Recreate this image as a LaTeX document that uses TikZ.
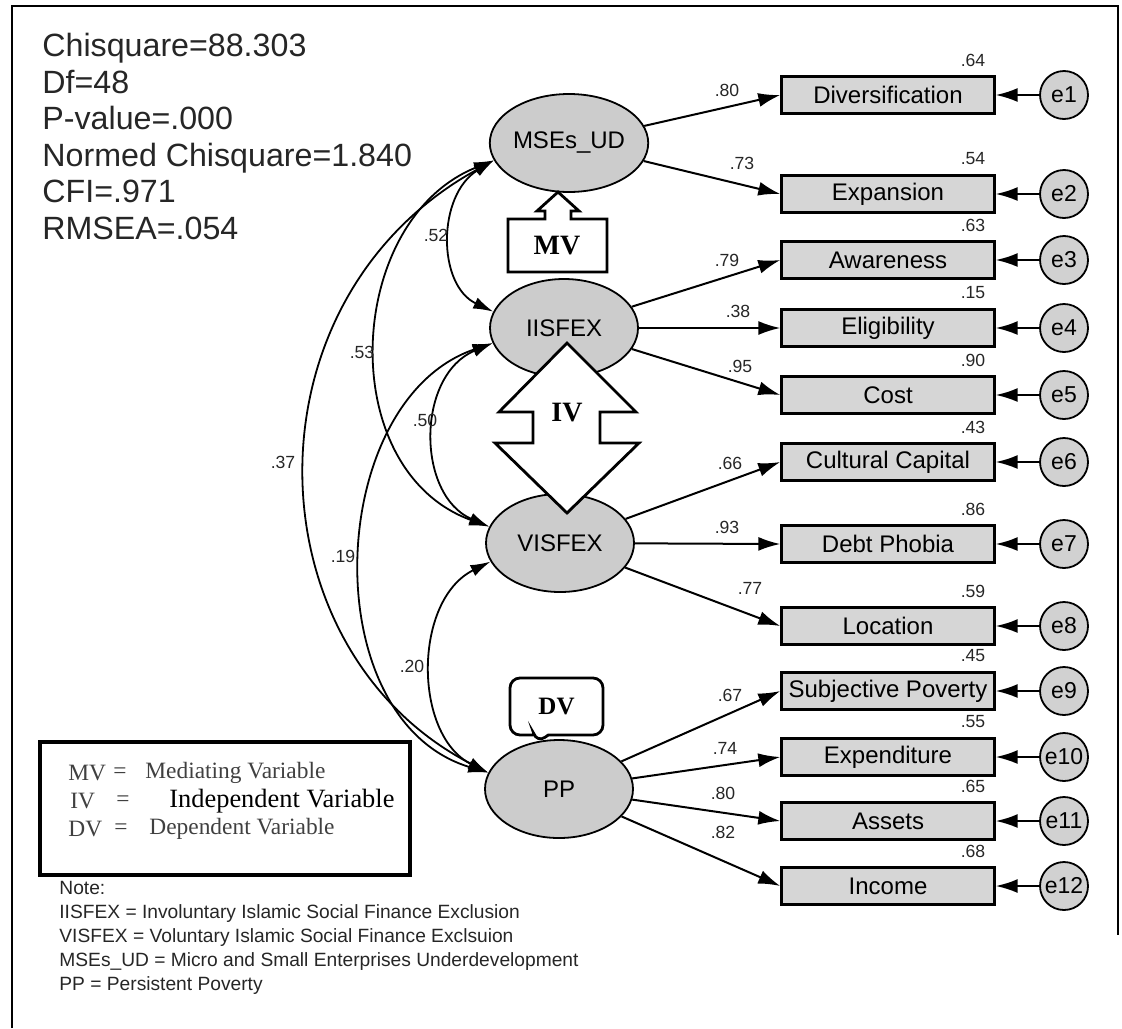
\documentclass[tikz,border=0pt]{standalone}
\usepackage{fontspec}
\setmainfont{Liberation Sans}
\newfontfamily\legendfont{Liberation Serif}
\usepackage{tikz}
\usetikzlibrary{arrows.meta}
\usetikzlibrary{shapes.geometric}
\usetikzlibrary{shapes.callouts}

\tikzset{
  latent/.style={ellipse, draw, line width=0.9pt, fill=black!20, minimum width=74pt,
    minimum height=49pt, inner sep=0pt, font=\fontsize{12}{14}\selectfont},
  observed/.style={rectangle, draw, line width=1.2pt, fill=black!16, minimum width=106.5pt,
    minimum height=18.5pt, inner sep=0pt, font=\fontsize{12}{14}\selectfont},
  errvar/.style={circle, draw, line width=0.9pt, fill=black!18, minimum size=24pt,
    inner sep=0pt, font=\fontsize{11.5}{13}\selectfont},
  loading/.style={line width=1pt, -{Latex[length=11pt,width=7pt]}},
  covar/.style={line width=0.9pt, {Latex[length=10pt,width=6pt]}-{Latex[length=10pt,width=6pt]}},
  coef/.style={inner sep=0pt, font=\fontsize{8.8}{10}\selectfont, text=black!85},
  rolebox/.style={inner sep=0pt, font=\legendfont\bfseries\fontsize{14}{16}\selectfont},
  legendrow/.style={anchor=west, inner sep=0pt, text=black!75, font=\legendfont\fontsize{11.7}{14}\selectfont},
}

\begin{document}
\begin{tikzpicture}[x=0.5pt,y=-0.5pt]
\useasboundingbox (0,0) rectangle (1122,1028);

\draw[line width=1pt] (12,1028) -- (12,6) -- (1118,6) -- (1118,935);

\node[anchor=north west, align=left, inner sep=0pt, text=black!85,
  font=\fontsize{16.1}{18.25}\selectfont] (fit) at (42,33)%
{Chisquare=88.303\\Df=48\\P-value=.000\\Normed Chisquare=1.840\\CFI=.971\\RMSEA=.054};

% latent variables
\node[latent] (mses) at (569,143) {MSEs\_UD};
\node[latent] (iisfex) at (564,328) {IISFEX};
\node[latent] (visfex) at (560,543) {VISFEX};
\node[latent] (pp) at (559,789) {PP};

% indicators with error terms
\foreach \nm/\yy/\txt/\rsq/\en in {div/95/Diversification/.64/1, expa/194/Expansion/.54/2,
    awa/260/Awareness/.63/3, eli/328/Eligibility/.15/4, cost/395/Cost/.90/5,
    cul/462/Cultural Capital/.43/6, debt/544/Debt Phobia/.86/7, loc/626/Location/.59/8,
    subj/691/Subjective Poverty/.45/9, expe/757/Expenditure/.55/10, ass/821/Assets/.65/11,
    inc/886/Income/.68/12}{
    \node[observed] (\nm) at (888,\yy) {\txt};
    \node[errvar] (e\en) at (1064,\yy) {e\en};
    \node[coef] (r\en) at (973,\yy-35) {\rsq};
    \draw[loading] (e\en) -- (\nm.east);
}

\foreach \a/\b in {mses/div, mses/expa, iisfex/awa, iisfex/eli, iisfex/cost,
    visfex/cul, visfex/debt, visfex/loc, pp/subj, pp/expe, pp/ass, pp/inc}{
    \draw[loading] (\a) -- (\b.west);
}

\node[coef] (l1) at (727,90) {.80};
\node[coef] (l2) at (742,163) {.73};
\node[coef] (l3) at (727,260) {.79};
\node[coef] (l4) at (738,311) {.38};
\node[coef] (l5) at (740,366) {.95};
\node[coef] (l6) at (730,463) {.66};
\node[coef] (l7) at (727,527) {.93};
\node[coef] (l8) at (750,588) {.77};
\node[coef] (l9) at (730,695) {.67};
\node[coef] (l10) at (725,748) {.74};
\node[coef] (l11) at (723,793) {.80};
\node[coef] (l12) at (723,832) {.82};

% correlations
\draw[covar] (mses.193) .. controls (437,195) and (437,285) .. (iisfex.167);
\draw[covar] (mses.193) .. controls (345,220) and (333,470) .. (visfex.167);
\draw[covar] (mses.193) .. controls (240,300) and (250,650) .. (pp.167);
\draw[covar] (iisfex.192) .. controls (416,375) and (416,495) .. (visfex.167);
\draw[covar] (iisfex.192) .. controls (325,400) and (313,720) .. (pp.167);
\draw[covar] (visfex.195) .. controls (413,600) and (413,735) .. (pp.167);

\node[coef] (c1) at (436,235) {.52};
\node[coef] (c2) at (362,352) {.53};
\node[coef] (c3) at (425,420) {.50};
\node[coef] (c4) at (283,462) {.37};
\node[coef] (c5) at (343,556) {.19};
\node[coef] (c6) at (412,666) {.20};

% role markers
\draw[line width=1.4pt, fill=white] (508,272) -- (508,219) -- (545,219) -- (545,211)
  -- (537,211) -- (558,192) -- (579,211) -- (571,211) -- (571,219) -- (607,219)
  -- (607,272) -- cycle;
\node[rolebox] (mv) at (557,246) {MV};

\draw[line width=1.4pt, fill=white] (567,343) -- (636,412) -- (600,412) -- (600,443)
  -- (639,443) -- (567,513) -- (495,443) -- (533,443) -- (533,412) -- (499,412) -- cycle;
\node[rolebox] (iv) at (567,413) {IV};

\node[rectangle callout, draw, line width=1.4pt, fill=white, rounded corners=5pt,
  minimum width=46.5pt, minimum height=28.5pt, callout absolute pointer={(537,743)},
  callout pointer width=7pt, rolebox, font=\legendfont\bfseries\fontsize{12.5}{15}\selectfont]
  (dv) at (556.5,706.5) {DV};

% legend
\node[draw, line width=2pt, minimum width=185pt, minimum height=66.5pt, inner sep=0pt]
  (legend) at (225,808.5) {};
\node[legendrow] (mvkey) at (68,773) {MV};
\node[legendrow] (mveq) at (113,773) {=};
\node[legendrow] (mvtxt) at (145,773) {Mediating Variable};
\node[legendrow] (ivkey) at (70,801) {IV};
\node[legendrow] (iveq) at (116,801) {=};
\node[legendrow, text=black, font=\legendfont\fontsize{13.2}{15}\selectfont] (ivtxt) at (169,801) {Independent Variable};
\node[legendrow] (dvkey) at (68,829) {DV};
\node[legendrow] (dveq) at (114,829) {=};
\node[legendrow] (dvtxt) at (149,829) {Dependent Variable};

\node[anchor=north west, align=left, inner sep=0pt, text=black!85,
  font=\fontsize{9.6}{12}\selectfont] (note) at (59,881)%
{Note:\\IISFEX = Involuntary Islamic Social Finance Exclusion\\VISFEX = Voluntary Islamic Social Finance Exclsuion\\MSEs\_UD = Micro and Small Enterprises Underdevelopment\\PP = Persistent Poverty};

\end{tikzpicture}
\end{document}
